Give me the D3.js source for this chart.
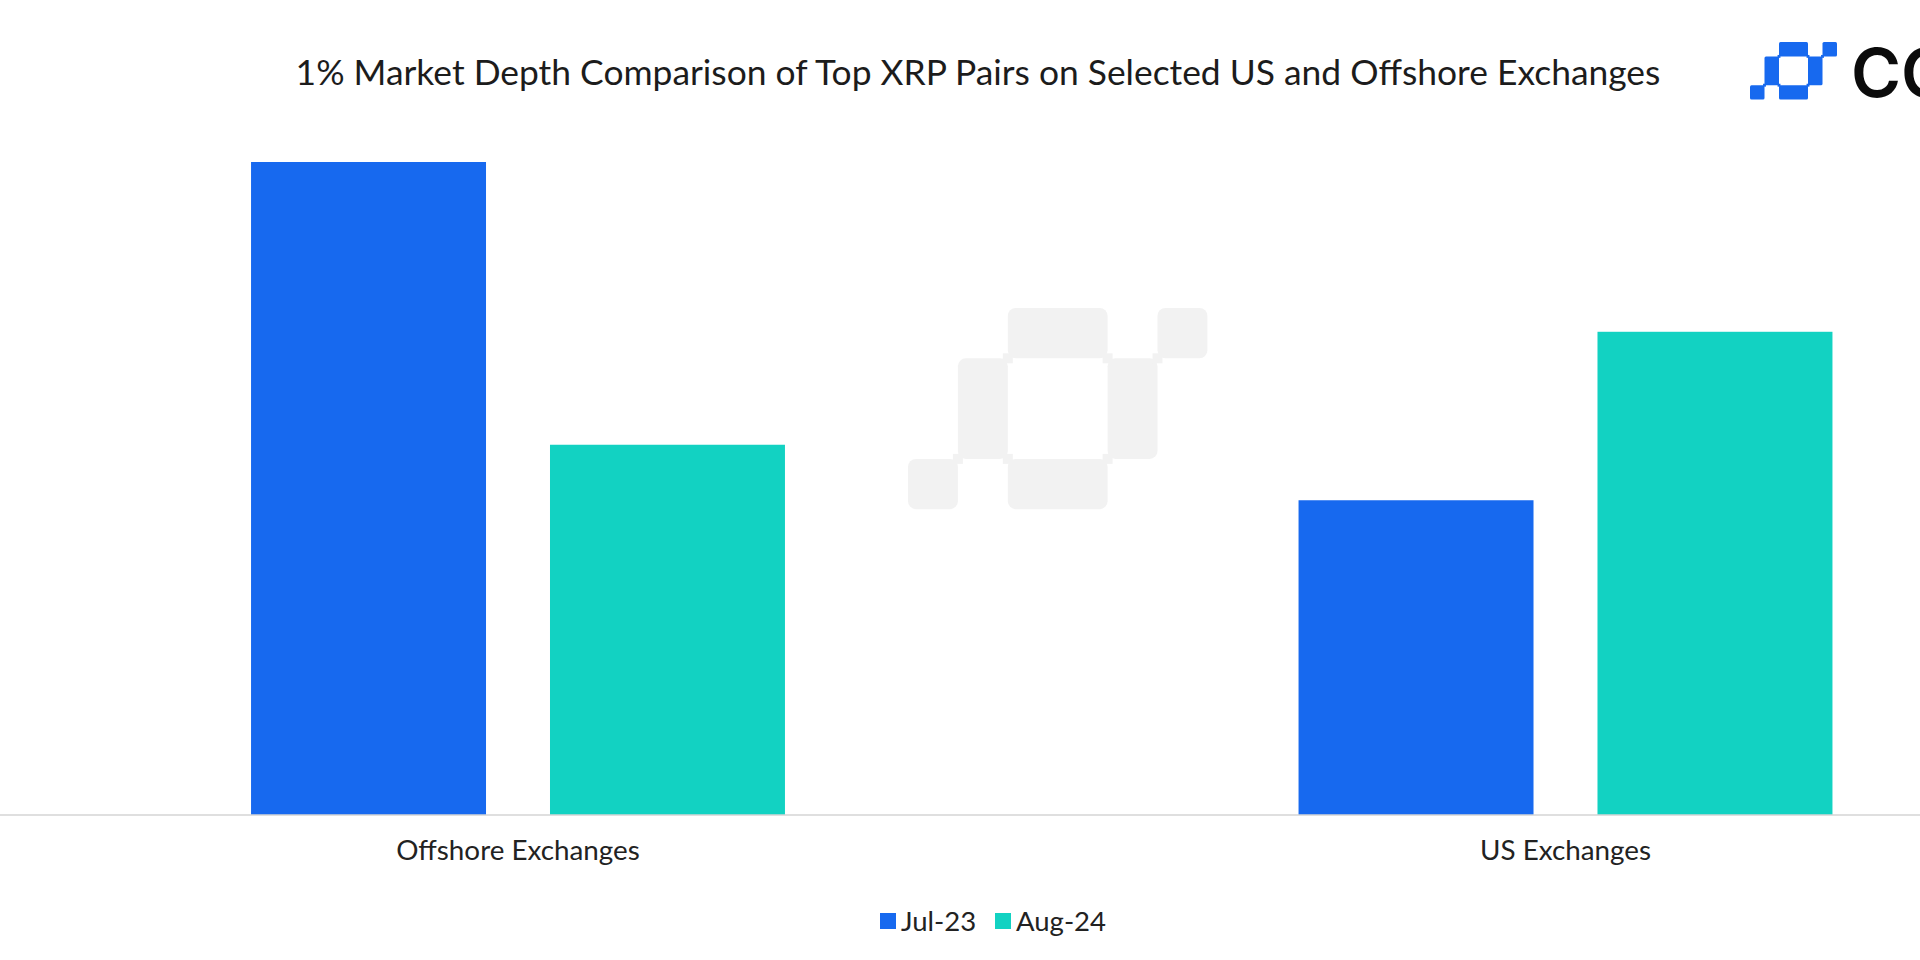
<!DOCTYPE html>
<html><head><meta charset="utf-8">
<script src="https://cdn.jsdelivr.net/npm/d3@7/dist/d3.min.js"></script>
<style>html,body{margin:0;padding:0;background:#fff;overflow:hidden}svg{display:block}text{font-family:"Lato","Open Sans",sans-serif}</style>
</head><body><div id="chart"></div>
<script>
const titleText = "1% Market Depth Comparison of Top XRP Pairs on Selected US and Offshore Exchanges";
const categories = ["Offshore Exchanges", "US Exchanges"];
const seriesNames = ["Jul-23", "Aug-24"];
const jul23 = [100, 48.2];
const aug24 = [56.7, 74];
const seriesColors = ["#1769ef", "#12d2c2"];
const logoCells = [[0,3,1,1],[1,1,1,2],[2,0,2,1],[2,3,2,1],[4,1,1,2],[5,0,1,1]];
const logoJoints = [[1,3],[2,1],[2,3],[4,1],[4,3],[5,1]];

const W = 1920, H = 960;
const svg = d3.select("#chart").append("svg").attr("width", W).attr("height", H);

const x0 = d3.scaleBand().domain(categories).range([-5.75, 2089.25]);
const x1 = d3.scaleBand().domain(seriesNames).range([0, x0.bandwidth()]).paddingInner(0.214).paddingOuter(0.859);
const y = d3.scaleLinear().domain([0, 100]).range([815, 162]);
const color = d3.scaleOrdinal().domain(seriesNames).range(seriesColors);

function drawLogo(parent, ox, oy, ux, uy, rx, fill) {
  const g = parent.append("g").attr("fill", fill);
  g.selectAll("rect.cell").data(logoCells).join("rect").attr("class", "cell")
    .attr("x", d => ox + d[0] * ux).attr("y", d => oy + d[1] * uy)
    .attr("width", d => d[2] * ux).attr("height", d => d[3] * uy)
    .attr("rx", rx);
  const j = ux * 0.2;
  g.selectAll("rect.joint").data(logoJoints).join("rect").attr("class", "joint")
    .attr("x", d => ox + d[0] * ux - j / 2).attr("y", d => oy + d[1] * uy - j / 2)
    .attr("width", j).attr("height", j);
}
drawLogo(svg, 908, 308, 49.9, 50.3, 8, "#f2f2f2");
drawLogo(svg, 1750, 42, 14.5, 14.4, 1.5, "#1769ef");
svg.append("text").attr("x", 1851).attr("y", 97).attr("font-size", 68).attr("font-weight", 600)
  .style("font-family", "Inter").attr("fill", "#0b0b0b").text("CC");

svg.append("text").attr("x", 978).attr("y", 85).attr("text-anchor", "middle")
  .attr("font-size", 35.4).attr("fill", "#1c1c1c").text(titleText);

const rows = categories.map((c, i) => ({cat: c, values: [jul23[i], aug24[i]]}));
svg.append("g").selectAll("g").data(rows).join("g")
  .attr("transform", d => `translate(${x0(d.cat)},0)`)
  .selectAll("rect").data(d => d.values.map((v, i) => ({name: seriesNames[i], v}))).join("rect")
  .attr("x", d => x1(d.name)).attr("width", x1.bandwidth())
  .attr("y", d => y(d.v)).attr("height", d => y(0) - y(d.v))
  .attr("fill", d => color(d.name));

const axis = svg.append("g").attr("transform", "translate(0,815)")
  .call(d3.axisBottom(x0).tickSize(0).tickPadding(25));
axis.select(".domain").remove();
axis.append("line").attr("x1", 0).attr("x2", W).attr("stroke", "#d4d4d4").attr("stroke-width", 1.5);
axis.selectAll(".tick text").attr("font-size", 27.8).attr("fill", "#222").style("font-family", "Lato");

const lg = svg.append("g");
const legendX = [880, 995];
lg.selectAll("rect").data(seriesNames).join("rect")
  .attr("x", (d, i) => legendX[i]).attr("y", 913).attr("width", 16).attr("height", 16).attr("fill", d => color(d));
lg.selectAll("text").data(seriesNames).join("text")
  .attr("x", (d, i) => legendX[i] + 21).attr("y", 931).attr("font-size", 27.5).attr("fill", "#222").text(d => d);
</script></body></html>
